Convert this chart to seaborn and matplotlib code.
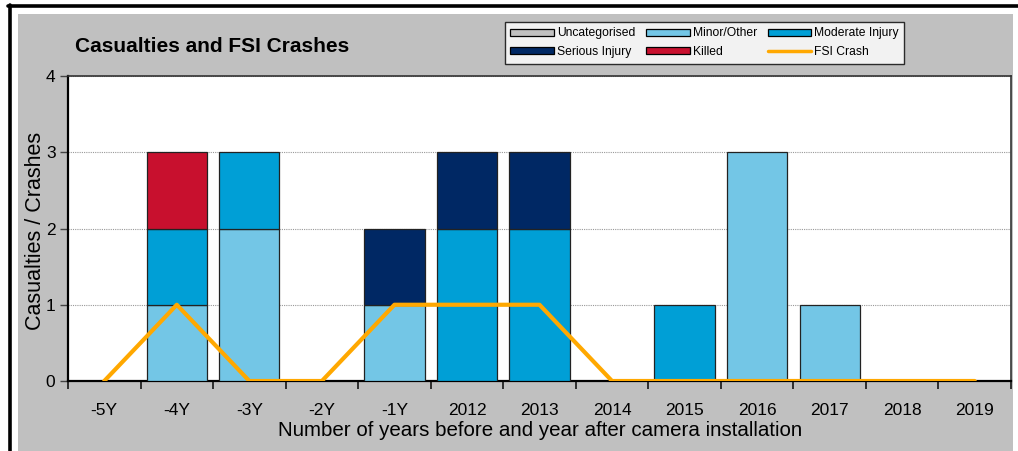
import numpy as np
import matplotlib
matplotlib.use("Agg")
import matplotlib.pyplot as plt
import seaborn as sns
from matplotlib.patches import Rectangle, Patch
from matplotlib.lines import Line2D

categories = ["-5Y", "-4Y", "-3Y", "-2Y", "-1Y", "2012", "2013", "2014",
              "2015", "2016", "2017", "2018", "2019"]
uncategorised = [0, 0, 0, 0, 0, 0, 0, 0, 0, 0, 0, 0, 0]
minor = [0, 1, 2, 0, 1, 0, 0, 0, 0, 3, 1, 0, 0]
moderate = [0, 1, 1, 0, 0, 2, 2, 0, 1, 0, 0, 0, 0]
serious = [0, 0, 0, 0, 1, 1, 1, 0, 0, 0, 0, 0, 0]
killed = [0, 1, 0, 0, 0, 0, 0, 0, 0, 0, 0, 0, 0]
fsi_crash = [0, 1, 0, 0, 1, 1, 1, 0, 0, 0, 0, 0, 0]

series_names = ["Uncategorised", "Minor/Other", "Moderate Injury", "Serious Injury", "Killed"]
colors = {"Uncategorised": "#c0c0c0", "Minor/Other": "#73c6e6",
          "Moderate Injury": "#009fd6", "Serious Injury": "#002864",
          "Killed": "#c8102e"}
line_color = "#ffa800"

sns.set_theme(style="white")
plt.rcParams['font.family'] = ['Liberation Sans', 'DejaVu Sans']
plt.rcParams['text.color'] = 'black'

W, H = 1018, 451
fig = plt.figure(figsize=(W / 100, H / 100), dpi=100)
fig.patch.set_facecolor("white")

def px(x0, y0, w, h):
    return (x0 / W, 1 - (y0 + h) / H, w / W, h / H)

# grey background panel
x0, y0, w, h = px(18, 14, 995, 437)
fig.patches.append(Rectangle((x0, y0), w, h, transform=fig.transFigure,
                             facecolor="#c0c0c0", edgecolor="none", zorder=-10))
# black border lines
fig.add_artist(Line2D([8 / W, 1], [1 - 6 / H, 1 - 6 / H], transform=fig.transFigure,
                      color="black", lw=2.6, zorder=-5))
fig.add_artist(Line2D([10 / W, 10 / W], [0, 1 - 5 / H], transform=fig.transFigure,
                      color="black", lw=2.6, zorder=-5))

ax = fig.add_axes(px(68, 76, 943, 305))
ax.set_zorder(5)
ax.set_facecolor("white")

n = len(categories)
xs = np.arange(n)
layers = [uncategorised, minor, moderate, serious, killed]
bottom = np.zeros(n)
for name, vals in zip(series_names, layers):
    vals = np.array(vals, dtype=float)
    mask = vals > 0
    ax.bar(xs[mask], vals[mask], bottom=bottom[mask], width=0.83,
           color=colors[name], edgecolor="#222222", linewidth=0.9, zorder=3)
    bottom += vals

sns.lineplot(x=xs, y=fsi_crash, ax=ax, color=line_color, linewidth=3, zorder=4,
             legend=False)

ax.set_xlim(-0.5, n - 0.5)
ax.set_ylim(0, 4)
ax.set_yticks([0, 1, 2, 3, 4])
ax.set_yticklabels(["0", "1", "2", "3", "4"], fontsize=12.5)
ax.yaxis.grid(True, linestyle=(0, (1, 1)), color="#999999", linewidth=0.8, zorder=0)
ax.xaxis.grid(False)
ax.set_axisbelow(True)

ax.set_xticks(xs)
ax.set_xticklabels(categories, fontsize=12.5)
ax.set_xticks(np.arange(-0.5, n, 1.0), minor=True)
ax.tick_params(axis="x", which="both", bottom=True)
ax.tick_params(axis="y", which="both", left=True)
ax.tick_params(axis="x", which="major", length=0, pad=16)
ax.tick_params(axis="x", which="minor", length=6, width=1.3, color="#222222", direction="out")
ax.tick_params(axis="y", which="major", length=6, width=1.0, color="#444444",
               direction="out", pad=3)
ax.tick_params(axis="both", labelcolor="black")

for side in ["left", "bottom"]:
    ax.spines[side].set_color("black")
    ax.spines[side].set_linewidth(1.6)
for side in ["top", "right"]:
    ax.spines[side].set_color("#333333")
    ax.spines[side].set_linewidth(1.2)

fig.text(36 / W, 1 - 231 / H, "Casualties / Crashes", rotation=90, fontsize=15.5,
         ha="center", va="center", color="black")
fig.text(540 / W, 1 - 430 / H, "Number of years before and year after camera installation",
         fontsize=14.8, ha="center", va="center", color="black")
fig.text(75 / W, 1 - 46 / H, "Casualties and FSI Crashes", fontsize=15,
         fontweight="bold", ha="left", va="center", color="black")

handles = [Patch(facecolor=colors[nm], edgecolor="black", linewidth=0.9) for nm in series_names]
handles.append(Line2D([], [], color=line_color, lw=2.5))
labels = series_names + ["FSI Crash"]
order = [0, 3, 1, 4, 2, 5]
leg = fig.legend([handles[i] for i in order], [labels[i] for i in order], ncol=3,
                 loc="upper left", bbox_to_anchor=(505 / W, 1 - 22 / H),
                 frameon=True, fontsize=8.7, handlelength=3.6, handleheight=0.55,
                 handletextpad=0.25, columnspacing=0.9, borderpad=0.45,
                 labelspacing=0.55, fancybox=False, borderaxespad=0)
leg.get_frame().set_edgecolor("black")
leg.get_frame().set_linewidth(1.0)
leg.get_frame().set_facecolor("white")
for t in leg.get_texts():
    t.set_color("black")

fig.savefig("out.png", dpi=100, facecolor=fig.get_facecolor())
